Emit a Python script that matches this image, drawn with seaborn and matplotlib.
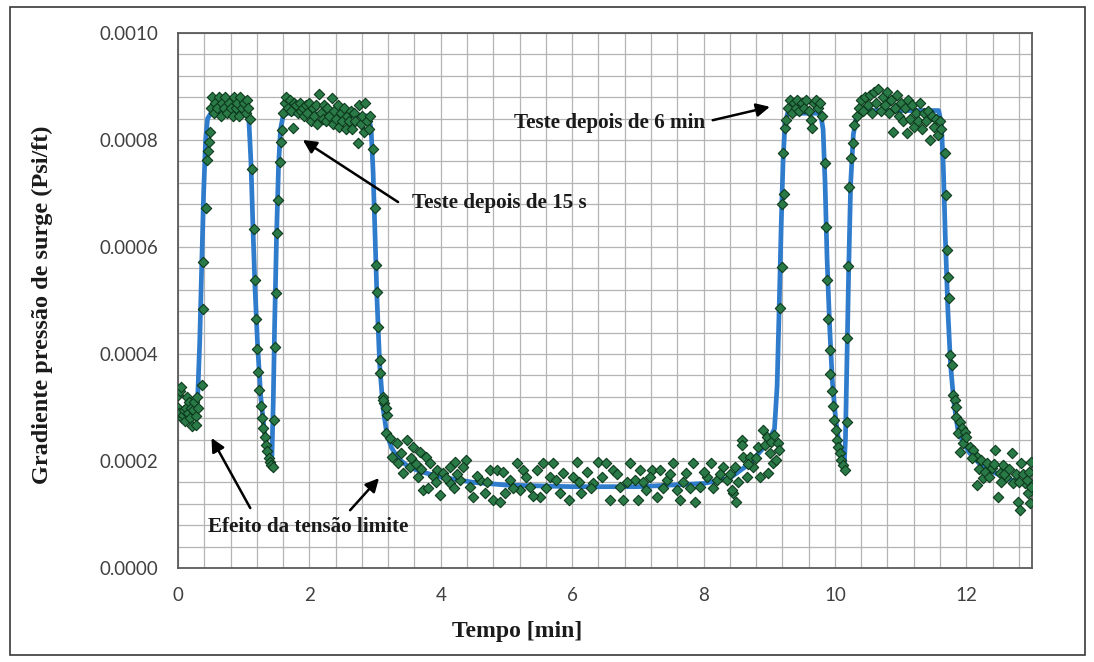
import matplotlib
matplotlib.use("Agg")
import matplotlib.pyplot as plt
from matplotlib.ticker import MultipleLocator, FormatStrFormatter
from matplotlib.patches import Rectangle
import seaborn as sns
import pandas as pd

# ---------------- data (time [min], surge pressure gradient [psi/ft]) ----------------
base = [(0.00, 0.000300), (0.00, 0.000323), (0.02, 0.000290), (0.03, 0.000330), (0.05, 0.000339),
        (0.06, 0.000280), (0.08, 0.000286), (0.09, 0.000295), (0.10, 0.000275), (0.12, 0.000300),
        (0.13, 0.000320), (0.15, 0.000290), (0.17, 0.000310), (0.18, 0.000280), (0.20, 0.000300),
        (0.22, 0.000265), (0.23, 0.000295), (0.25, 0.000310), (0.27, 0.000285), (0.28, 0.000267),
        (0.29, 0.000320), (0.31, 0.000300)]
rise1 = [(0.36, 0.000342), (0.38, 0.000484), (0.38, 0.000572), (0.42, 0.000673), (0.44, 0.000763),
         (0.45, 0.000780), (0.47, 0.000796), (0.48, 0.000815)]
top1 = [(0.50, 0.000860), (0.52, 0.000880), (0.55, 0.000850), (0.57, 0.000870), (0.60, 0.000860),
        (0.62, 0.000880), (0.65, 0.000845), (0.67, 0.000870), (0.70, 0.000860), (0.72, 0.000880),
        (0.75, 0.000850), (0.78, 0.000870), (0.80, 0.000860), (0.83, 0.000845), (0.85, 0.000880),
        (0.88, 0.000860), (0.90, 0.000870), (0.93, 0.000845), (0.95, 0.000880), (0.98, 0.000860),
        (1.00, 0.000870), (1.03, 0.000850), (1.05, 0.000875), (1.07, 0.000860), (1.09, 0.000840)]
fall1 = [(1.12, 0.000745), (1.16, 0.000634), (1.17, 0.000538), (1.19, 0.000465), (1.20, 0.000410),
         (1.22, 0.000367), (1.24, 0.000333), (1.26, 0.000302), (1.28, 0.000280), (1.30, 0.000262),
         (1.32, 0.000245), (1.34, 0.000230), (1.36, 0.000218), (1.38, 0.000206), (1.40, 0.000198),
         (1.42, 0.000192), (1.44, 0.000188)]
rise2 = [(1.46, 0.000277), (1.48, 0.000413), (1.49, 0.000514), (1.51, 0.000626), (1.52, 0.000688),
         (1.55, 0.000759), (1.57, 0.000796), (1.59, 0.000819)]
top2 = [(1.60, 0.000850), (1.63, 0.000870), (1.65, 0.000880), (1.68, 0.000860), (1.70, 0.000875),
        (1.72, 0.000855), (1.75, 0.000822), (1.77, 0.000870), (1.80, 0.000865), (1.82, 0.000850),
        (1.85, 0.000870), (1.87, 0.000855), (1.90, 0.000860), (1.92, 0.000845), (1.95, 0.000865),
        (1.97, 0.000850), (2.00, 0.000870), (2.02, 0.000835), (2.05, 0.000860), (2.07, 0.000845),
        (2.10, 0.000865), (2.12, 0.000830), (2.15, 0.000886), (2.17, 0.000850), (2.20, 0.000840),
        (2.22, 0.000865), (2.25, 0.000835), (2.27, 0.000860), (2.30, 0.000845), (2.34, 0.000879),
        (2.36, 0.000830), (2.38, 0.000855), (2.40, 0.000840), (2.43, 0.000865), (2.45, 0.000825),
        (2.48, 0.000850), (2.50, 0.000835), (2.53, 0.000860), (2.55, 0.000820), (2.58, 0.000845),
        (2.60, 0.000835), (2.63, 0.000855), (2.65, 0.000820), (2.68, 0.000850), (2.70, 0.000835),
        (2.74, 0.000794), (2.76, 0.000865), (2.78, 0.000830), (2.80, 0.000845), (2.83, 0.000815),
        (2.85, 0.000870), (2.87, 0.000835), (2.90, 0.000820), (2.92, 0.000845)]
fall2 = [(2.97, 0.000783), (3.00, 0.000673), (3.02, 0.000566), (3.03, 0.000516), (3.05, 0.000450),
         (3.07, 0.000389), (3.08, 0.000364), (3.12, 0.000320), (3.14, 0.000308), (3.18, 0.000286),
         (3.16, 0.000252), (3.22, 0.000243)]
floor_a = [(3.12, 0.000314), (3.17, 0.000300), (3.33, 0.000234), (3.48, 0.000239), (3.25, 0.000208),
           (3.35, 0.000196), (3.43, 0.000178), (3.58, 0.000226), (3.68, 0.000217), (3.78, 0.000208),
           (3.83, 0.000196), (3.53, 0.000189), (3.65, 0.000170), (3.73, 0.000146), (3.81, 0.000150),
           (3.99, 0.000136), (3.94, 0.000183), (4.04, 0.000178), (4.14, 0.000189), (4.22, 0.000198),
           (4.39, 0.000202), (4.34, 0.000189), (4.29, 0.000164), (4.14, 0.000159), (4.45, 0.000151),
           (4.49, 0.000133), (4.60, 0.000164), (4.67, 0.000140), (4.75, 0.000183), (4.85, 0.000183),
           (4.95, 0.000179), (4.80, 0.000127), (4.90, 0.000123), (5.05, 0.000164), (5.16, 0.000196),
           (5.25, 0.000183), (5.20, 0.000146), (5.36, 0.000151), (5.46, 0.000183), (5.56, 0.000196),
           (5.66, 0.000170), (5.71, 0.000196), (5.81, 0.000140), (5.86, 0.000178), (5.51, 0.000133),
           (3.40, 0.000215), (3.55, 0.000205), (3.62, 0.000195), (3.70, 0.000185), (3.88, 0.000172),
           (3.92, 0.000160), (4.08, 0.000168), (4.20, 0.000150), (4.25, 0.000175), (4.55, 0.000172),
           (4.70, 0.000160), (4.98, 0.000140), (5.10, 0.000150), (5.30, 0.000170), (5.40, 0.000135),
           (5.60, 0.000150), (5.75, 0.000165)]
floor_b = [(5.95, 0.000127), (6.01, 0.000170), (6.07, 0.000198), (6.14, 0.000140), (6.22, 0.000179),
           (6.32, 0.000159), (6.40, 0.000198), (6.52, 0.000196), (6.58, 0.000127), (6.62, 0.000183),
           (6.73, 0.000151), (6.78, 0.000127), (6.88, 0.000196), (6.96, 0.000164), (7.03, 0.000183),
           (7.00, 0.000127), (7.13, 0.000146), (7.21, 0.000183), (7.29, 0.000133), (7.34, 0.000183),
           (7.44, 0.000164), (7.54, 0.000196), (7.59, 0.000146), (7.64, 0.000127), (7.74, 0.000178),
           (7.84, 0.000196), (7.87, 0.000123), (7.95, 0.000151), (8.05, 0.000170), (8.12, 0.000196),
           (8.20, 0.000164), (8.30, 0.000189), (8.35, 0.000164), (8.45, 0.000140), (8.50, 0.000123),
           (8.48, 0.000189), (8.58, 0.000239), (8.58, 0.000230), (8.60, 0.000208), (8.71, 0.000208),
           (8.76, 0.000189), (8.83, 0.000226), (8.90, 0.000258), (8.96, 0.000245), (9.01, 0.000215),
           (9.06, 0.000196), (8.98, 0.000178), (8.86, 0.000170), (8.66, 0.000170), (8.43, 0.000146),
           (6.10, 0.000160), (6.28, 0.000150), (6.45, 0.000170), (6.68, 0.000175), (6.83, 0.000160),
           (7.08, 0.000160), (7.18, 0.000170), (7.39, 0.000150), (7.49, 0.000175), (7.69, 0.000160),
           (7.79, 0.000150), (8.00, 0.000180), (8.15, 0.000150), (8.25, 0.000175), (8.40, 0.000175),
           (8.53, 0.000160), (8.68, 0.000195), (8.80, 0.000205), (8.93, 0.000230), (9.03, 0.000235)]
pre3 = [(9.08, 0.000249), (9.13, 0.000234), (9.15, 0.000220), (9.10, 0.000202)]
rise3 = [(9.17, 0.000486), (9.19, 0.000563), (9.20, 0.000680), (9.22, 0.000699), (9.21, 0.000776),
         (9.24, 0.000822), (9.26, 0.000837)]
top3 = [(9.28, 0.000860), (9.31, 0.000875), (9.34, 0.000850), (9.37, 0.000870), (9.40, 0.000860),
        (9.43, 0.000875), (9.46, 0.000855), (9.50, 0.000870), (9.53, 0.000860), (9.56, 0.000875),
        (9.60, 0.000855), (9.64, 0.000837), (9.65, 0.000822), (9.68, 0.000870), (9.71, 0.000875),
        (9.74, 0.000860), (9.77, 0.000870), (9.80, 0.000845)]
fall3 = [(9.85, 0.000757), (9.86, 0.000637), (9.88, 0.000538), (9.90, 0.000465), (9.92, 0.000407),
         (9.93, 0.000363), (9.95, 0.000330), (9.97, 0.000302), (9.99, 0.000277), (10.01, 0.000258),
         (10.03, 0.000239), (10.05, 0.000227), (10.08, 0.000215), (10.10, 0.000202), (10.12, 0.000193),
         (10.15, 0.000183)]
rise4 = [(10.18, 0.000273), (10.19, 0.000430), (10.20, 0.000564), (10.21, 0.000712), (10.25, 0.000766),
         (10.27, 0.000794), (10.29, 0.000828), (10.33, 0.000844)]
top4 = [(10.36, 0.000860), (10.40, 0.000875), (10.43, 0.000855), (10.46, 0.000880), (10.50, 0.000865),
        (10.53, 0.000885), (10.56, 0.000850), (10.60, 0.000890), (10.63, 0.000870), (10.66, 0.000895),
        (10.70, 0.000855), (10.73, 0.000880), (10.76, 0.000865), (10.80, 0.000890), (10.83, 0.000850),
        (10.86, 0.000875), (10.88, 0.000815), (10.92, 0.000860), (10.95, 0.000885), (10.98, 0.000845),
        (11.01, 0.000870), (11.04, 0.000835), (11.07, 0.000860), (11.09, 0.000813), (11.12, 0.000875),
        (11.15, 0.000840), (11.18, 0.000865), (11.21, 0.000825), (11.24, 0.000850), (11.27, 0.000835),
        (11.30, 0.000870), (11.33, 0.000820), (11.36, 0.000850), (11.39, 0.000835), (11.42, 0.000855),
        (11.45, 0.000800), (11.48, 0.000845), (11.51, 0.000825), (11.54, 0.000840), (11.57, 0.000810),
        (11.60, 0.000835), (11.62, 0.000820)]
fall4 = [(11.67, 0.000776), (11.69, 0.000697), (11.70, 0.000594), (11.72, 0.000544), (11.73, 0.000505),
         (11.75, 0.000398), (11.78, 0.000379), (11.80, 0.000323), (11.83, 0.000314), (11.84, 0.000301),
         (11.85, 0.000282), (11.90, 0.000273), (11.93, 0.000262), (11.87, 0.000252), (11.98, 0.000254),
         (11.90, 0.000217)]
tail = [(11.95, 0.000234), (12.00, 0.000245), (12.05, 0.000227), (12.10, 0.000220), (12.16, 0.000208),
        (12.23, 0.000202), (12.16, 0.000155), (12.26, 0.000168), (12.31, 0.000196), (12.39, 0.000187),
        (12.44, 0.000220), (12.48, 0.000133), (12.51, 0.000178), (12.56, 0.000193), (12.61, 0.000171),
        (12.69, 0.000215), (12.71, 0.000159), (12.79, 0.000124), (12.82, 0.000108), (12.84, 0.000196),
        (12.89, 0.000159), (12.94, 0.000140), (12.97, 0.000121), (12.99, 0.000199), (12.99, 0.000152),
        (12.08, 0.000205), (12.20, 0.000185), (12.28, 0.000180), (12.35, 0.000170), (12.42, 0.000195),
        (12.53, 0.000160), (12.58, 0.000175), (12.65, 0.000185), (12.75, 0.000175), (12.80, 0.000160),
        (12.87, 0.000175), (12.92, 0.000165), (12.96, 0.000180)]

# fitted (model) curve
fit_curve = [(0.00, 0.000290), (0.15, 0.000288), (0.27, 0.000295), (0.30, 0.000320), (0.33, 0.000420),
             (0.36, 0.000560), (0.39, 0.000700), (0.42, 0.000800), (0.45, 0.000840), (0.50, 0.000850),
             (1.04, 0.000850), (1.08, 0.000835), (1.11, 0.000760), (1.14, 0.000640), (1.17, 0.000530),
             (1.21, 0.000420), (1.26, 0.000320), (1.31, 0.000260), (1.36, 0.000215), (1.40, 0.000195),
             (1.43, 0.000210), (1.45, 0.000310), (1.47, 0.000450), (1.50, 0.000620), (1.53, 0.000750),
             (1.56, 0.000820), (1.60, 0.000845), (1.66, 0.000850), (2.90, 0.000845), (2.94, 0.000820),
             (2.97, 0.000740), (3.00, 0.000620), (3.03, 0.000500), (3.07, 0.000380), (3.12, 0.000300),
             (3.18, 0.000250), (3.25, 0.000225), (3.35, 0.000205), (3.50, 0.000190), (3.70, 0.000180),
             (4.00, 0.000170), (4.50, 0.000160), (5.00, 0.000155), (6.00, 0.000152), (7.00, 0.000152),
             (8.00, 0.000158), (8.40, 0.000168), (8.70, 0.000195), (8.95, 0.000230), (9.08, 0.000260),
             (9.12, 0.000340), (9.15, 0.000480), (9.18, 0.000630), (9.21, 0.000760), (9.24, 0.000830),
             (9.28, 0.000850), (9.33, 0.000850), (9.78, 0.000850), (9.82, 0.000820), (9.85, 0.000720),
             (9.88, 0.000580), (9.92, 0.000450), (9.96, 0.000350), (10.01, 0.000280), (10.06, 0.000235),
             (10.11, 0.000195), (10.14, 0.000188), (10.16, 0.000240), (10.18, 0.000370), (10.21, 0.000560),
             (10.24, 0.000720), (10.28, 0.000810), (10.33, 0.000845), (10.40, 0.000855), (11.58, 0.000855),
             (11.62, 0.000830), (11.65, 0.000750), (11.68, 0.000620), (11.72, 0.000480), (11.76, 0.000380),
             (11.81, 0.000310), (11.87, 0.000260), (11.95, 0.000235), (12.05, 0.000215), (12.20, 0.000195),
             (12.40, 0.000180), (12.60, 0.000168), (12.80, 0.000160), (13.00, 0.000155)]

x_ticks = [0, 2, 4, 6, 8, 10, 12]
y_ticks = [0.0, 0.0002, 0.0004, 0.0006, 0.0008, 0.0010]

# ---------------- build tables ----------------
segments = [base, rise1, top1, fall1, rise2, top2, fall2, floor_a, floor_b,
            pre3, rise3, top3, fall3, rise4, top4, fall4, tail]
pts = [p for seg in segments for p in seg]
df_pts = pd.DataFrame(pts, columns=["tempo", "grad"])
df_fit = pd.DataFrame(fit_curve, columns=["tempo", "grad"])

# ---------------- figure ----------------
sns.set_theme(style="white")
plt.rcParams["font.family"] = ["Liberation Serif", "DejaVu Serif"]

fig = plt.figure(figsize=(10.94, 6.62), dpi=100)
fig.patch.set_facecolor("white")
ax = fig.add_axes([178 / 1094, 94 / 662, (1032 - 178) / 1094, (568 - 33) / 662])

sns.lineplot(data=df_fit, x="tempo", y="grad", ax=ax, color="#2f7ccc", lw=3.4,
             estimator=None, sort=False, zorder=3)
sns.scatterplot(data=df_pts, x="tempo", y="grad", ax=ax, marker="D", s=28,
                color="#2a7a47", edgecolor="#0d3a1d", linewidth=0.8, zorder=4)

ax.set_xlim(0, 13)
ax.set_ylim(0, 0.0010)
ax.xaxis.set_major_locator(MultipleLocator(2))
ax.xaxis.set_minor_locator(MultipleLocator(0.4))
ax.yaxis.set_major_locator(MultipleLocator(0.0002))
ax.yaxis.set_minor_locator(MultipleLocator(0.00004))
ax.set_xticks(x_ticks)
ax.set_yticks(y_ticks)
ax.yaxis.set_major_formatter(FormatStrFormatter("%.4f"))
ax.grid(which="both", color="#b4b4b4", lw=0.9)
ax.set_axisbelow(True)

for sp in ax.spines.values():
    sp.set_color("#5a5a5a")
    sp.set_linewidth(1.3)
ax.tick_params(which="major", direction="out", length=5.5, width=1.0, color="#707070",
               labelsize=13.5, labelcolor="#404040")
ax.tick_params(axis="y", which="major", pad=8.5)
ax.tick_params(axis="x", which="major", pad=8)
ax.tick_params(which="minor", length=0)
for lab in ax.get_xticklabels() + ax.get_yticklabels():
    lab.set_fontfamily(["Lato", "DejaVu Sans"])

ax.set_xlabel("")
ax.set_ylabel("")
fig.text(517 / 1094, 1 - 632 / 662, "Tempo [min]", ha="center", va="center",
         fontsize=17, fontweight="bold", color="#1a1a1a")
fig.text(42 / 1094, 1 - 305 / 662, "Gradiente pressão de surge (Psi/ft)", ha="center",
         va="center", rotation=90, fontsize=17.5, fontweight="bold", color="#1a1a1a")

# ---------------- annotations ----------------
akw = dict(arrowstyle="-|>", color="black", lw=1.8, mutation_scale=20, shrinkA=0, shrinkB=0)
tkw = dict(fontsize=15.2, fontweight="bold", color="#1a1a1a", va="center")
ax.annotate("", xy=(9.01, 0.000862), xytext=(8.14, 0.000837), arrowprops=akw)
ax.text(8.02, 0.000832, "Teste depois de 6 min", ha="right", **tkw)
ax.annotate("", xy=(1.90, 0.000800), xytext=(3.35, 0.000684), arrowprops=akw)
ax.text(3.56, 0.000682, "Teste depois de 15 s", ha="left", **tkw)
ax.annotate("", xy=(0.51, 0.000243), xytext=(1.10, 0.000112), arrowprops=akw)
ax.annotate("", xy=(3.06, 0.000168), xytext=(2.62, 0.000108), arrowprops=akw)
ax.text(0.46, 0.0000765, "Efeito da tensão limite", ha="left", **tkw)

# outer frame
fig.patches.append(Rectangle((10 / 1094, 7 / 662), (1085 - 10) / 1094, (655 - 7) / 662,
                             transform=fig.transFigure, fill=False, edgecolor="#3a3a3a",
                             lw=1.2, zorder=0))

fig.savefig("out.png", dpi=100, facecolor="white")
